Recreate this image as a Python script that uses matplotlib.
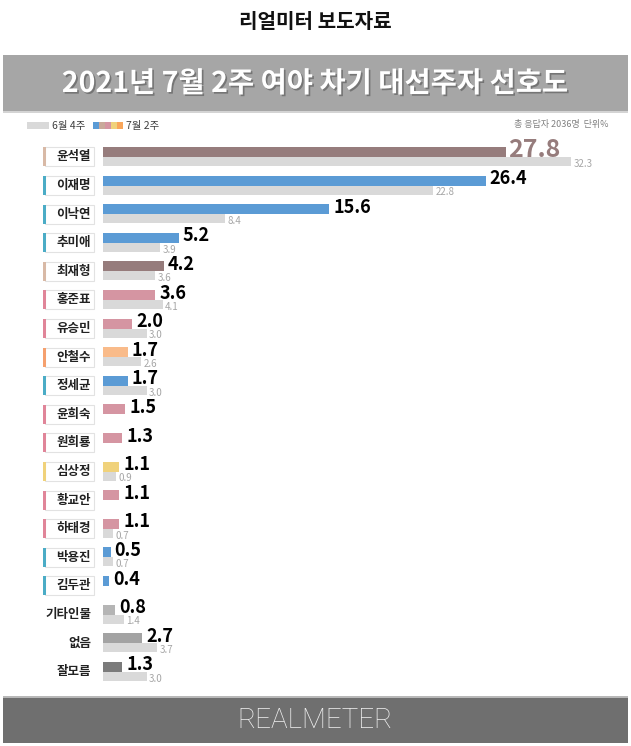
import matplotlib.pyplot as plt
from matplotlib.patches import Rectangle
import matplotlib.patheffects as pe
from matplotlib import transforms

plt.rcParams['font.family'] = ['Noto Sans CJK KR', 'DejaVu Sans']

names = ['윤석열', '이재명', '이낙연', '추미애', '최재형', '홍준표', '유승민', '안철수', '정세균',
         '윤희숙', '원희룡', '심상정', '황교안', '하태경', '박용진', '김두관', '기타인물', '없음', '잘모름']
cur = [27.8, 26.4, 15.6, 5.2, 4.2, 3.6, 2.0, 1.7, 1.7, 1.5, 1.3, 1.1, 1.1, 1.1, 0.5, 0.4, 0.8, 2.7, 1.3]
prev = [32.3, 22.8, 8.4, 3.9, 3.6, 4.1, 3.0, 2.6, 3.0, None, None, 0.9, None, 0.7, 0.7, None, 1.4, 3.7, 3.0]

BROWN = '#967c7c'
BLUE = '#5b9bd5'
PINK = '#d595a2'
ORANGE = '#f9bb8a'
YELLOW = '#f0d27b'
bar_colors = [BROWN, BLUE, BLUE, BLUE, BROWN, PINK, PINK, ORANGE, BLUE, PINK, PINK, YELLOW,
              PINK, PINK, BLUE, BLUE, '#b5b5b5', '#a3a3a3', '#7b7b7b']
TAN = '#d8b9a6'
TEAL = '#4bacc6'
ROSE = '#e08599'
ACC_OR = '#f5a06e'
accent = [TAN, TEAL, TEAL, TEAL, TAN, ROSE, ROSE, ACC_OR, TEAL, ROSE, ROSE, YELLOW,
          ROSE, ROSE, TEAL, TEAL, None, None, None]

W, H = 631, 746
fig = plt.figure(figsize=(W / 100, H / 100), dpi=100)


def fx(px):
    return px / W


def fy(py):
    return 1 - py / H


def frect(x0, y0, w, h, **kw):
    fig.patches.append(Rectangle((fx(x0), fy(y0 + h)), w / W, h / H,
                                 transform=fig.transFigure, **kw))


# header
fig.text(0.5, fy(22), '리얼미터 보도자료', ha='center', va='center', fontsize=14.5,
         fontweight='bold', color='#111111')
frect(3, 55, 625, 56, color='#a6a6a6', lw=0)
frect(3, 111, 625, 2, color='#d4d4d4', lw=0)
fig.text(0.5, fy(84), '2021년 7월 2주 여야 차기 대선주자 선호도', ha='center', va='center',
         fontsize=20.5, fontweight='bold', color='white',
         path_effects=[pe.withSimplePatchShadow(offset=(1.2, -1.2), shadow_rgbFace='#555555', alpha=0.6)])

# legend
frect(27, 122, 22, 7, color='#d9d9d9', lw=0)
fig.text(fx(52), fy(125.5), '6월 4주', ha='left', va='center', fontsize=7.5, color='#404040')
for k, c in enumerate([BLUE, '#c9a99a', PINK, YELLOW, '#f9a65a']):
    frect(93 + k * 6, 122, 6, 7, color=c, lw=0)
fig.text(fx(126), fy(125.5), '7월 2주', ha='left', va='center', fontsize=7.5, color='#404040')
fig.text(fx(608), fy(125), '총 응답자 2036명  단위%', ha='right', va='center', fontsize=6.5,
         color='#808080')

# bars
PX_PER = 14.48
X0 = 103.3
ROW0, ROWH = 157, 28.6
top_px, bot_px = 140, 690
ax = fig.add_axes([fx(X0), fy(bot_px), (W - X0) / W, (bot_px - top_px) / H])
ax.set_xlim(0, (W - X0) / PX_PER)
ax.set_ylim((bot_px - ROW0) / ROWH, (top_px - ROW0) / ROWH)
ax.axis('off')

rows = list(range(len(names)))
ch, ph = 0.35, 0.315
ax.barh([r - ch / 2 for r in rows], cur, height=ch, color=bar_colors, lw=0)
pr = [r for r in rows if prev[r] is not None]
ax.barh([r + ph / 2 for r in pr], [prev[r] for r in pr], height=ph, color='#d9d9d9', lw=0)

off = 4 / PX_PER
for r in rows:
    if r == 0:
        ax.text(cur[r] + off * 0.5, r, f'{cur[r]:.1f}', ha='left', va='baseline', fontsize=18,
                fontweight='bold', color=BROWN)
    else:
        ax.text(cur[r] + off, r - 0.05, f'{cur[r]:.1f}', ha='left', va='baseline', fontsize=13,
                fontweight='bold', color='black')
    if prev[r] is not None:
        ax.text(prev[r] + off * 0.6, r + 0.24, f'{prev[r]:.1f}', ha='left', va='center',
                fontsize=7, color='#a6a6a6')

# name boxes
tr = transforms.blended_transform_factory(fig.transFigure, ax.transData)
bh = 19 / ROWH
for r in rows:
    if accent[r] is not None:
        ax.add_patch(Rectangle((fx(45), r - bh / 2), fx(49), bh, transform=tr, clip_on=False,
                               facecolor='white', edgecolor='#e2e2e2', lw=0.8))
        ax.add_patch(Rectangle((fx(43), r - bh / 2), fx(2.5), bh, transform=tr, clip_on=False,
                               facecolor=accent[r], lw=0))
    ax.text(fx(91), r, names[r], transform=tr, ha='right', va='center', fontsize=9,
            fontweight='bold', color='#222222')

# footer
frect(3, 697, 625, 46, color='#6f6f6f', lw=0)
frect(3, 696, 625, 1.5, color='#b8b8b8', lw=0)
fig.text(0.5, fy(721), 'REALMETER', ha='center', va='center', fontsize=20,
         family=['Roboto', 'DejaVu Sans'], fontweight='light', fontstretch='condensed',
         color='#f2f2f2')

fig.savefig('out.png', dpi=100, facecolor='white')
